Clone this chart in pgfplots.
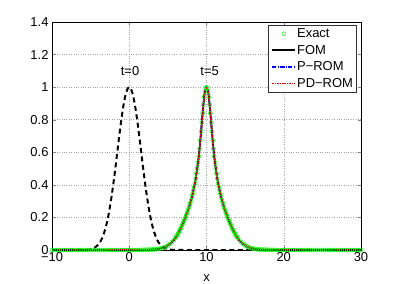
\documentclass[border=0pt]{standalone}
\usepackage{fontspec}
\setmainfont{Liberation Sans}
\usepackage{pgfplots}
\pgfplotsset{compat=1.18}
\usepackage{pgfplotstable}

\pgfplotsset{
  legend image code/.code={\draw[mark repeat=2,mark phase=2,#1] plot coordinates {(0bp,0bp)(11.5bp,0bp)(23bp,0bp)};},
}

\pgfplotstableread{
x y
-10 0
-5 0
0 0
1.5 0.001
2.5 0.002
3 0.003
3.5 0.005
4 0.009
4.25 0.012
4.5 0.016
4.75 0.021
5 0.028
5.25 0.037
5.5 0.047
5.75 0.060
6 0.076
6.25 0.095
6.5 0.117
6.75 0.142
7 0.170
7.25 0.198
7.5 0.230
7.75 0.265
8 0.305
8.25 0.355
8.5 0.410
8.75 0.485
9 0.575
9.25 0.700
9.5 0.840
9.75 0.960
10 1.000
10.25 0.960
10.5 0.840
10.75 0.700
11 0.575
11.25 0.485
11.5 0.410
11.75 0.355
12 0.305
12.25 0.265
12.5 0.230
12.75 0.198
13 0.170
13.25 0.142
13.5 0.117
13.75 0.095
14 0.076
14.25 0.060
14.5 0.047
14.75 0.037
15 0.028
15.25 0.021
15.5 0.016
15.75 0.012
16 0.009
16.5 0.005
17 0.003
17.5 0.002
18.5 0.001
20 0
25 0
30 0
}\tfive

\pgfplotstableread{
x y
-10 0
-7 0
-6 0.0005
-5.5 0.0016
-5 0.0049
-4.5 0.0134
-4 0.033
-3.75 0.050
-3.5 0.074
-3.25 0.106
-3 0.147
-2.75 0.200
-2.5 0.265
-2.25 0.341
-2 0.427
-1.75 0.521
-1.5 0.620
-1.25 0.717
-1 0.808
-0.75 0.887
-0.5 0.948
-0.25 0.987
0 1
0.25 0.987
0.5 0.948
0.75 0.887
1 0.808
1.25 0.717
1.5 0.620
1.75 0.521
2 0.427
2.25 0.341
2.5 0.265
2.75 0.200
3 0.147
3.25 0.106
3.5 0.074
3.75 0.050
4 0.033
4.5 0.0134
5 0.0049
5.5 0.0016
6 0.0005
7 0
10 0
20 0
30 0
}\tzero

\pgfplotstableread{
x y
-10 0
-9.75 0
-9.5 0
-9.25 0
-9 0
-8.75 0
-8.5 0
-8.25 0
-8 0
-7.75 0
-7.5 0
-7.25 0
-7 0
-6.75 0
-6.5 0
-6.25 0
-6 0
-5.75 0
-5.5 0
-5.25 0
-5 0
-4.75 0
-4.5 0
-4.25 0
-4 0
-3.75 0
-3.5 0
-3.25 0
-3 0
-2.75 0
-2.5 0
-2.25 0
-2 0
-1.75 0
-1.5 0
-1.25 0
-1 0
-0.75 0
-0.5 0
-0.25 0
0 0
0.25 0
0.5 0
0.75 0
1 0
1.25 0
1.5 0.001
1.75 0.001
2 0.001
2.25 0.002
2.5 0.002
2.75 0.003
3 0.003
3.25 0.004
3.5 0.005
3.75 0.007
4 0.009
4.25 0.012
4.5 0.016
4.75 0.021
5 0.028
5.25 0.037
5.5 0.047
5.75 0.060
6.0 0.076
6.1 0.083
6.2 0.091
6.3 0.099
6.4 0.108
6.5 0.117
6.6 0.127
6.7 0.137
6.8 0.148
6.9 0.159
7.0 0.170
7.1 0.181
7.2 0.192
7.3 0.204
7.4 0.217
7.5 0.230
7.6 0.244
7.7 0.258
7.8 0.273
7.9 0.289
8.0 0.305
8.1 0.325
8.2 0.345
8.3 0.366
8.4 0.387
8.5 0.410
8.6 0.439
8.7 0.470
8.8 0.502
8.9 0.537
9.0 0.575
9.1 0.622
9.2 0.673
9.3 0.727
9.4 0.783
9.5 0.840
9.6 0.893
9.7 0.940
9.8 0.973
9.9 0.993
10.0 1.000
10.1 0.993
10.2 0.973
10.3 0.940
10.4 0.893
10.5 0.840
10.6 0.783
10.7 0.727
10.8 0.673
10.9 0.622
11.0 0.575
11.1 0.537
11.2 0.502
11.3 0.470
11.4 0.439
11.5 0.410
11.6 0.387
11.7 0.366
11.8 0.345
11.9 0.325
12.0 0.305
12.1 0.289
12.2 0.273
12.3 0.258
12.4 0.244
12.5 0.230
12.6 0.217
12.7 0.204
12.8 0.192
12.9 0.181
13.0 0.170
13.1 0.159
13.2 0.148
13.3 0.137
13.4 0.127
13.5 0.117
13.6 0.108
13.7 0.099
13.8 0.091
13.9 0.083
14.0 0.076
14.25 0.060
14.5 0.047
14.75 0.037
15 0.028
15.25 0.021
15.5 0.016
15.75 0.012
16 0.009
16.25 0.007
16.5 0.005
16.75 0.004
17 0.003
17.25 0.003
17.5 0.002
17.75 0.002
18 0.001
18.25 0.001
18.5 0.001
18.75 0
19 0
19.25 0
19.5 0
19.75 0
20 0
20.25 0
20.5 0
20.75 0
21 0
21.25 0
21.5 0
21.75 0
22 0
22.25 0
22.5 0
22.75 0
23 0
23.25 0
23.5 0
23.75 0
24 0
24.25 0
24.5 0
24.75 0
25 0
25.25 0
25.5 0
25.75 0
26 0
26.25 0
26.5 0
26.75 0
27 0
27.25 0
27.5 0
27.75 0
28 0
28.25 0
28.5 0
28.75 0
29 0
29.25 0
29.5 0
29.75 0
30 0
}\texact

\begin{document}
\begin{tikzpicture}[font=\fontsize{13}{15}\selectfont]
\path[use as bounding box] (0,0) rectangle (399bp,284bp);
\begin{axis}[
  at={(52bp,34bp)}, anchor=south west,
  scale only axis, width=309bp, height=228bp,
  xmin=-10, xmax=30, ymin=0, ymax=1.4,
  xtick={-10,0,10,20,30},
  xticklabels={−10,0,10,20,30},
  ytick={0,0.2,0.4,0.6,0.8,1,1.2,1.4},
  yticklabels={0,0.2,0.4,0.6,0.8,1,1.2,1.4},
  tick align=inside, major tick length=3.5bp,
  xtick pos=both, ytick pos=both,
  grid=major,
  major grid style={dotted, gray!70, line width=0.5pt},
  axis line style={line width=0.6pt},
  xlabel={x},
  xlabel style={yshift=-6bp},
  xticklabel style={yshift=1bp},
  ticklabel style={font=\fontsize{13}{15}\selectfont},
  /pgf/number format/assume math mode=true,
  clip=true,
  legend cell align=left,
  legend style={at={(1,1)}, anchor=north east, xshift=-4bp, yshift=-3bp,
    font=\fontsize{13}{15}\selectfont, draw=black!80, line width=0.6pt,
    inner xsep=3pt, inner ysep=2.5pt, row sep=4.5pt, nodes={inner sep=0.8pt}},
]
\addlegendimage{only marks, mark=o, color=green, mark size=2pt, mark options={line width=0.45pt}}
\addlegendentry{Exact}
\addlegendimage{black, line width=1.8pt}
\addlegendentry{FOM}
\addlegendimage{blue, line width=1.5pt, dash pattern=on 4bp off 1.5bp on 1bp off 1.5bp}
\addlegendentry{P−ROM}
\addlegendimage{red, line width=1.6pt, dash pattern=on 1.6bp off 0.8bp}
\addlegendentry{PD−ROM}
\addplot[only marks, mark=o, color=green, mark size=2pt, mark options={line width=0.45pt}, forget plot]
table {\texact};
\addplot[black, line width=1.8pt, smooth, tension=0.4, forget plot] table {\tfive};
\addplot[blue, line width=1.5pt, dash pattern=on 4bp off 1.5bp on 1bp off 1.5bp, smooth, tension=0.4, forget plot] table {\tfive};
\addplot[red, line width=1.6pt, dash pattern=on 1.6bp off 0.8bp, smooth, tension=0.4, forget plot] table {\tfive};
\addplot[black, line width=2pt, dash pattern=on 5bp off 3.5bp, smooth, tension=0.4, forget plot] table {\tzero};
\node[font=\fontsize{13}{15}\selectfont] at (axis cs:0.1,1.1) {t=0};
\node[font=\fontsize{13}{15}\selectfont] at (axis cs:10.4,1.1) {t=5};
\end{axis}
\end{tikzpicture}
\end{document}
